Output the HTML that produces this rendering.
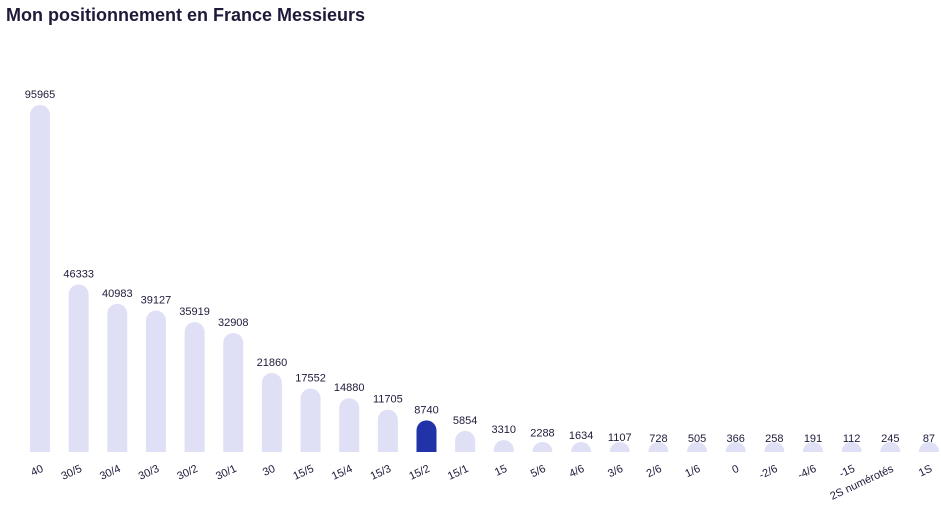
<!DOCTYPE html>
<html><head><meta charset="utf-8"><style>
body{margin:0;background:#fff;font-family:"Liberation Sans",sans-serif;}
#title{position:absolute;left:6px;top:5px;font-size:18px;font-weight:bold;color:#1e1b3a;margin:0;z-index:1}
#chart{position:absolute;left:0;top:0}
</style></head><body>
<h1 id="title">Mon positionnement en France Messieurs</h1>
<svg id="chart" width="941" height="520"></svg>
<script>
const categories=["40","30/5","30/4","30/3","30/2","30/1","30","15/5","15/4","15/3","15/2","15/1","15","5/6","4/6","3/6","2/6","1/6","0","-2/6","-4/6","-15","2S numérotés","1S"];
const values=[95965,46333,40983,39127,35919,32908,21860,17552,14880,11705,8740,5854,3310,2288,1634,1107,728,505,366,258,191,112,245,87];
const highlightIndex=10;
const NS="http://www.w3.org/2000/svg";
const svgEl=document.getElementById('chart');
const x0=40,step=38.65,baseY=452,topY=105,bw=20;
const maxV=Math.max(...values);
function xPos(i){return x0+i*step;}
function yScale(v){return (v/maxV)*(baseY-topY);}
categories.forEach((c,i)=>{
  const h=Math.max(yScale(values[i]),3);
  const cx=xPos(i);
  const r=Math.min(10,h);
  const p=document.createElementNS(NS,'path');
  const x=cx-bw/2,y=baseY-h;
  p.setAttribute('d',`M${x},${baseY} L${x},${y+r} A${r},${r} 0 0 1 ${x+bw},${y+r} L${x+bw},${baseY} Z`);
  p.setAttribute('fill',i===highlightIndex?'#2233aa':'#dfe0f5');
  
  
  svgEl.appendChild(p);
  const t=document.createElementNS(NS,'text');
  t.setAttribute('x',cx);t.setAttribute('y',y-7);
  t.setAttribute('text-anchor','middle');t.setAttribute('font-size','11');t.setAttribute('fill','#1e1b3a');
  t.textContent=values[i];
  
  
  svgEl.appendChild(t);
  const l=document.createElementNS(NS,'text');
  l.setAttribute('x',cx+4);l.setAttribute('y',471);
  l.setAttribute('text-anchor','end');l.setAttribute('font-size','11');l.setAttribute('fill','#1e1b3a');
  l.setAttribute('transform',`rotate(-25 ${cx+4} 471)`);
  l.textContent=c;
  
  
  svgEl.appendChild(l);
});
</script>
</body></html>
